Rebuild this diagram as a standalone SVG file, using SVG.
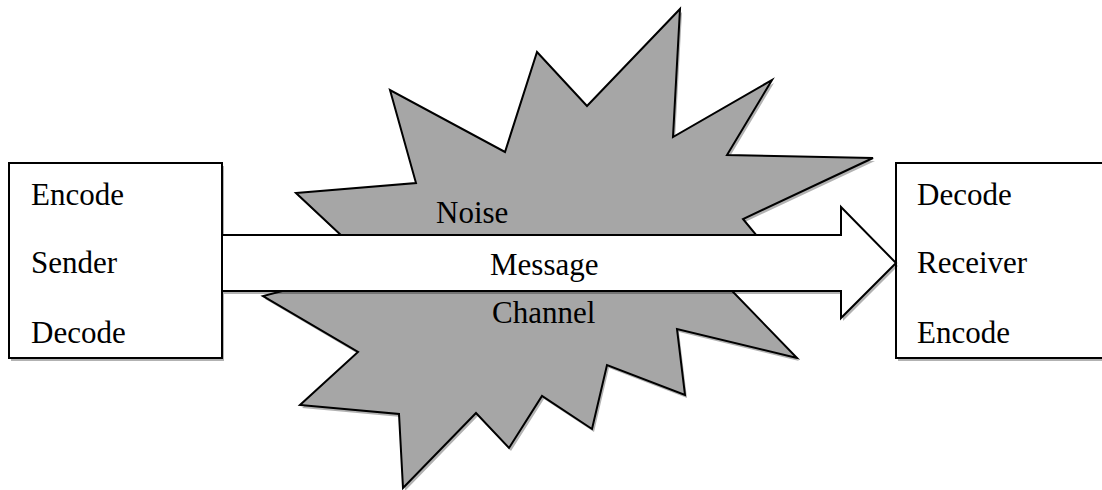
<svg xmlns="http://www.w3.org/2000/svg" width="1102" height="490" viewBox="0 0 1102 490">
<style>
.shadow{fill:#000;fill-opacity:0.3;stroke:none}
.burst{fill:#a6a6a6;stroke:#000;stroke-width:2;stroke-linejoin:miter}
.box{fill:#fff;stroke:#000;stroke-width:2}
.arrow{fill:#fff;stroke:#000;stroke-width:2;stroke-linejoin:miter}
.t{font-family:"Liberation Serif","Times New Roman",serif;font-size:31px;fill:#000}
</style>
<defs>
<polygon id="burstShape" points="296,193 416,183 390,90 505,152 537,52 587,106 680,9 673,137 772,80 727,155 873,158 743,219 790,276 707,265 797,358 677,329 685,395 607,365 592,429 542,396 509,448 476,413 403,488 399,414 300,405 358,352 263,296 375,267"/>
<polygon id="arrowShape" points="222,235 841,235 841,207 896,263 841,318 841,291 222,291"/>
</defs>
<g id="noise">
<use href="#burstShape" class="shadow" transform="translate(2,3)"/>
<use href="#burstShape" class="burst"/>
<text class="t" x="436" y="223">Noise</text>
<text class="t" x="492" y="323">Channel</text>
</g>
<g id="sender">
<rect class="shadow" x="11" y="166" width="213" height="195"/>
<rect class="box" x="9" y="163" width="213" height="195"/>
<text class="t" x="31" y="205">Encode</text>
<text class="t" x="31" y="273">Sender</text>
<text class="t" x="31" y="343">Decode</text>
</g>
<g id="receiver">
<rect class="shadow" x="898" y="166" width="220" height="195"/>
<rect class="box" x="896" y="163" width="220" height="195"/>
<text class="t" x="917" y="205">Decode</text>
<text class="t" x="917" y="273">Receiver</text>
<text class="t" x="917" y="343">Encode</text>
</g>
<g id="connectors">
<g id="message">
<use href="#arrowShape" class="shadow" transform="translate(2,3)"/>
<use href="#arrowShape" class="arrow"/>
<text class="t" x="490" y="275">Message</text>
</g>
</g>
</svg>
